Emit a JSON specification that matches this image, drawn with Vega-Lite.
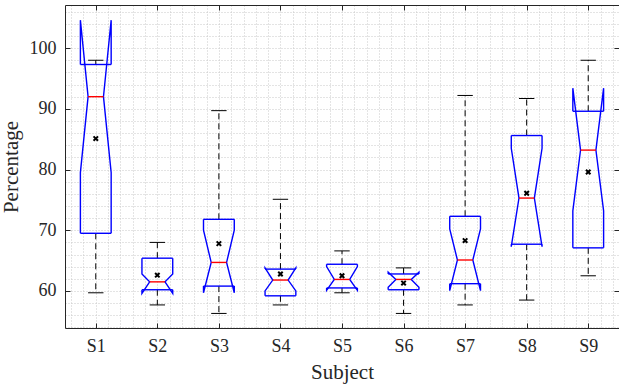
{
  "$schema": "https://vega.github.io/schema/vega-lite/v6.json",
  "width": 554,
  "height": 323,
  "autosize": "none",
  "padding": {"left": 65, "top": 5, "right": 0, "bottom": 58},
  "background": "white",
  "config": {"view": {"stroke": null}, "font": "Liberation Serif"},
  "data": {
    "values": [
      {"subject": "S1", "wl": 59.7, "q1": 69.5, "nlo": 79.5, "med": 92.0, "nhi": 104.6, "q3": 97.3, "wh": 98.0, "mean": 85.1},
      {"subject": "S2", "wl": 57.7, "q1": 60.2, "nlo": 59.6, "med": 61.5, "nhi": 62.8, "q3": 65.4, "wh": 68.0, "mean": 62.6},
      {"subject": "S3", "wl": 56.3, "q1": 60.8, "nlo": 59.7, "med": 64.7, "nhi": 70.0, "q3": 71.8, "wh": 89.7, "mean": 67.8},
      {"subject": "S4", "wl": 57.7, "q1": 59.2, "nlo": 60.0, "med": 61.8, "nhi": 63.8, "q3": 63.6, "wh": 75.1, "mean": 62.8},
      {"subject": "S5", "wl": 59.7, "q1": 60.5, "nlo": 60.1, "med": 61.9, "nhi": 64.0, "q3": 64.4, "wh": 66.6, "mean": 62.5},
      {"subject": "S6", "wl": 56.3, "q1": 60.2, "nlo": 60.6, "med": 61.9, "nhi": 63.1, "q3": 62.8, "wh": 63.8, "mean": 61.3},
      {"subject": "S7", "wl": 57.7, "q1": 61.2, "nlo": 60.05, "med": 65.1, "nhi": 70.2, "q3": 72.3, "wh": 92.2, "mean": 68.3},
      {"subject": "S8", "wl": 58.5, "q1": 67.7, "nlo": 67.3, "med": 75.3, "nhi": 83.5, "q3": 85.6, "wh": 91.7, "mean": 76.1},
      {"subject": "S9", "wl": 62.5, "q1": 67.1, "nlo": 73.2, "med": 83.2, "nhi": 93.4, "q3": 89.6, "wh": 98.0, "mean": 79.6}
    ]
  },
  "transform": [
    {"calculate": "toNumber(substring(datum.subject, 1))", "as": "i"},
    {"calculate": "datum.i - 0.25", "as": "bl"},
    {"calculate": "datum.i + 0.25", "as": "br"},
    {"calculate": "datum.i - 0.125", "as": "cl"},
    {"calculate": "datum.i + 0.125", "as": "cr"}
  ],
  "layer": [
    {
      "mark": {"type": "rule", "color": "black", "strokeWidth": 1, "strokeDash": [6, 4]},
      "encoding": {
        "x": {"field": "i", "type": "quantitative",
          "scale": {"domain": [0.5, 9.5], "nice": false, "zero": false},
          "axis": {
            "orient": "bottom",
            "title": "Subject", "titleFontSize": 21, "titleFontWeight": "normal", "titleColor": "#262626", "titlePadding": 6,
            "values": [0.6,0.8,1,1.2,1.4,1.6,1.8,2,2.2,2.4,2.6,2.8,3,3.2,3.4,3.6,3.8,4,4.2,4.4,4.6,4.8,5,5.2,5.4,5.6,5.8,6,6.2,6.4,6.6,6.8,7,7.2,7.4,7.6,7.8,8,8.2,8.4,8.6,8.8,9,9.2,9.4],
            "labelExpr": "datum.value === round(datum.value) ? 'S' + datum.value : ''",
            "labelFontSize": 18, "labelColor": "#262626", "labelPadding": 9, "labelFlush": false, "labelOverlap": false,
            "ticks": false,
            "grid": true, "gridColor": "#c8c8c8", "gridDash": [1, 2], "gridWidth": 1,
            "domainColor": "#262626"
          }},
        "y": {"field": "q3", "type": "quantitative",
          "scale": {"domain": [53.9, 107.1], "nice": false, "zero": false},
          "axis": {
            "orient": "left",
            "title": "Percentage", "titleFontSize": 21, "titleFontWeight": "normal", "titleColor": "#262626", "titlePadding": 8,
            "values": [54,56,58,60,62,64,66,68,70,72,74,76,78,80,82,84,86,88,90,92,94,96,98,100,102,104,106],
            "labelExpr": "datum.value % 10 === 0 ? datum.value : ''",
            "labelFontSize": 18, "labelColor": "#262626", "labelPadding": 9, "labelFlush": false, "labelOverlap": false,
            "ticks": false,
            "grid": true, "gridColor": "#c8c8c8", "gridDash": [1, 2], "gridWidth": 1,
            "domainColor": "#262626"
          }},
        "y2": {"field": "wh"}
      }
    },
    {
      "mark": {"type": "rule", "color": "black", "strokeWidth": 1, "strokeDash": [6, 4]},
      "encoding": {
        "x": {"field": "i", "type": "quantitative", "scale": {"domain": [0.5, 9.5], "nice": false, "zero": false},
          "axis": {"orient": "bottom", "values": [1,2,3,4,5,6,7,8,9], "labels": false, "title": null, "grid": false, "domain": false,
            "tickSize": -5, "tickColor": "#262626"}},
        "y": {"field": "q1", "type": "quantitative", "scale": {"domain": [53.9, 107.1], "nice": false, "zero": false},
          "axis": {"orient": "left", "values": [60,70,80,90,100], "labels": false, "title": null, "grid": false, "domain": false,
            "tickSize": -5, "tickColor": "#262626"}},
        "y2": {"field": "wl"}
      }
    },
    {
      "mark": {"type": "rule", "color": "black", "strokeWidth": 1},
      "encoding": {
        "x": {"field": "cl", "type": "quantitative", "scale": {"domain": [0.5, 9.5], "nice": false, "zero": false}, "axis": null},
        "x2": {"field": "cr"},
        "y": {"field": "wh", "type": "quantitative", "scale": {"domain": [53.9, 107.1], "nice": false, "zero": false}, "axis": null}
      }
    },
    {
      "mark": {"type": "rule", "color": "black", "strokeWidth": 1},
      "encoding": {
        "x": {"field": "cl", "type": "quantitative", "scale": {"domain": [0.5, 9.5], "nice": false, "zero": false}, "axis": null},
        "x2": {"field": "cr"},
        "y": {"field": "wl", "type": "quantitative", "scale": {"domain": [53.9, 107.1], "nice": false, "zero": false}, "axis": null}
      }
    },
    {
      "transform": [
        {"calculate": "[-1, 1]", "as": "sides"},
        {"flatten": ["sides"], "as": ["s"]},
        {"fold": ["q1", "nlo", "med", "nhi", "q3"], "as": ["k", "v"]},
        {"calculate": "indexof(['q1','nlo','med','nhi','q3'], datum.k)", "as": "ord"},
        {"calculate": "datum.i + datum.s * (datum.k === 'med' ? 0.125 : 0.25)", "as": "xv"}
      ],
      "mark": {"type": "line", "color": "#0000ff", "strokeWidth": 1.4},
      "encoding": {
        "x": {"field": "xv", "type": "quantitative", "scale": {"domain": [0.5, 9.5], "nice": false, "zero": false}, "axis": null},
        "y": {"field": "v", "type": "quantitative", "scale": {"domain": [53.9, 107.1], "nice": false, "zero": false}, "axis": null},
        "order": {"field": "ord", "type": "quantitative"},
        "detail": [{"field": "subject"}, {"field": "s"}]
      }
    },
    {
      "mark": {"type": "rule", "color": "#0000ff", "strokeWidth": 1.4},
      "encoding": {
        "x": {"field": "bl", "type": "quantitative", "scale": {"domain": [0.5, 9.5], "nice": false, "zero": false}, "axis": null},
        "x2": {"field": "br"},
        "y": {"field": "q3", "type": "quantitative", "scale": {"domain": [53.9, 107.1], "nice": false, "zero": false}, "axis": null}
      }
    },
    {
      "mark": {"type": "rule", "color": "#0000ff", "strokeWidth": 1.4},
      "encoding": {
        "x": {"field": "bl", "type": "quantitative", "scale": {"domain": [0.5, 9.5], "nice": false, "zero": false}, "axis": null},
        "x2": {"field": "br"},
        "y": {"field": "q1", "type": "quantitative", "scale": {"domain": [53.9, 107.1], "nice": false, "zero": false}, "axis": null}
      }
    },
    {
      "mark": {"type": "rule", "color": "#ff0000", "strokeWidth": 1.4},
      "encoding": {
        "x": {"field": "cl", "type": "quantitative", "scale": {"domain": [0.5, 9.5], "nice": false, "zero": false},
          "axis": {"orient": "top", "values": [1,2,3,4,5,6,7,8,9], "labels": false, "title": null, "grid": false,
            "tickSize": -5, "tickColor": "#262626", "domainColor": "#262626"}},
        "x2": {"field": "cr"},
        "y": {"field": "med", "type": "quantitative", "scale": {"domain": [53.9, 107.1], "nice": false, "zero": false},
          "axis": {"orient": "right", "values": [60,70,80,90,100], "labels": false, "title": null, "grid": false,
            "tickSize": -5, "tickColor": "#262626", "domainColor": "#262626"}}
      }
    },
    {
      "mark": {"type": "point", "shape": "M-1,-1L1,1M-1,1L1,-1", "filled": false, "color": "black", "opacity": 1, "strokeWidth": 2, "size": 20},
      "encoding": {
        "x": {"field": "i", "type": "quantitative", "scale": {"domain": [0.5, 9.5], "nice": false, "zero": false}, "axis": null},
        "y": {"field": "mean", "type": "quantitative", "scale": {"domain": [53.9, 107.1], "nice": false, "zero": false}, "axis": null}
      }
    }
  ],
  "resolve": {"axis": {"x": "independent", "y": "independent"}}
}
